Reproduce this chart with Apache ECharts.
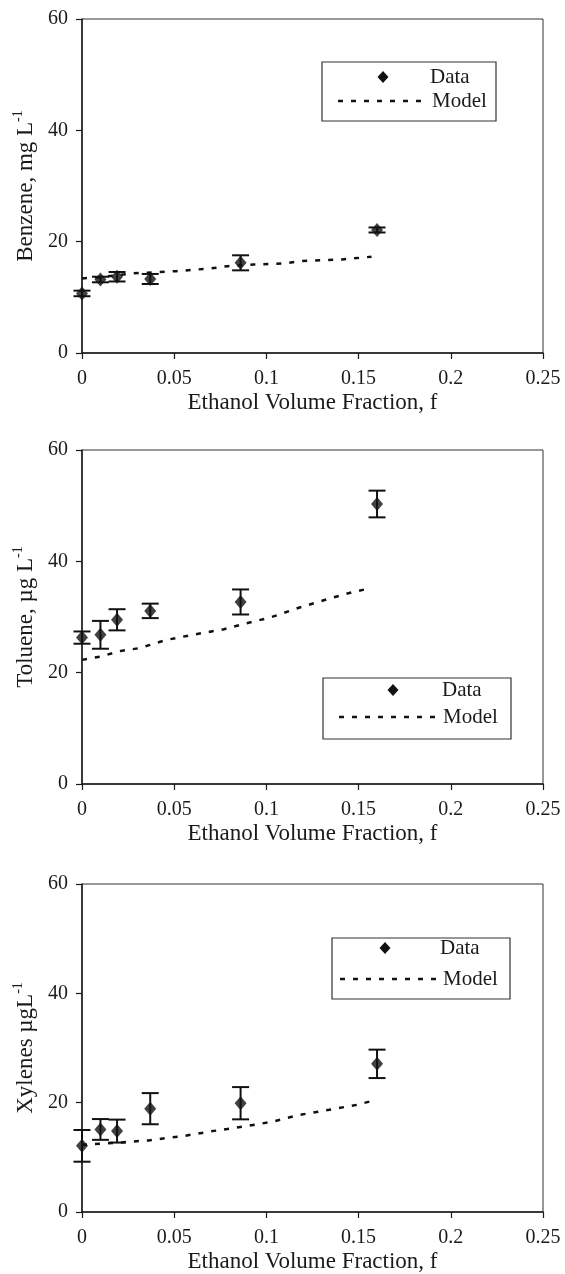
<!DOCTYPE html>
<html>
<head>
<meta charset="utf-8">
<script src="https://cdn.jsdelivr.net/npm/echarts@6/dist/echarts.min.js"></script>
<style>
html,body{margin:0;padding:0;background:#fff;}
#c{width:565px;height:1274px;}
</style>
</head>
<body>
<div id="c"></div>
<script>
// ---------- data ----------
const fraction = [0, 0.01, 0.019, 0.037, 0.086, 0.16];
const xTicks = [0, 0.05, 0.1, 0.15, 0.2, 0.25];
const yTicks = [0, 20, 40, 60];

const benzene    = [10.7, 13.2, 13.7, 13.3, 16.2, 22.1];
const benzeneErr = [0.5, 0.5, 0.85, 0.9, 1.35, 0.45];
const benzeneModelF = [0, 0.01, 0.027, 0.051, 0.070, 0.079, 0.093, 0.110, 0.118, 0.141, 0.157];
const benzeneModel  = [13.4, 13.6, 14.3, 14.7, 15.2, 15.6, 15.9, 16.1, 16.5, 16.8, 17.3];

const toluene    = [26.3, 26.8, 29.5, 31.1, 32.7, 50.3];
const tolueneErr = [1.1, 2.5, 1.9, 1.3, 2.25, 2.4];
const tolueneModelF = [0, 0.01, 0.021, 0.031, 0.046, 0.060, 0.077, 0.087, 0.102, 0.118, 0.133, 0.147, 0.157];
const tolueneModel  = [22.3, 22.9, 23.9, 24.4, 25.9, 26.8, 27.8, 28.7, 29.9, 31.7, 33.2, 34.5, 35.2];

const xylenes    = [12.1, 15.1, 14.8, 18.9, 19.9, 27.1];
const xylenesErr = [2.9, 1.9, 2.1, 2.85, 2.95, 2.6];
const xylenesModelF = [0, 0.02, 0.036, 0.055, 0.069, 0.087, 0.103, 0.117, 0.134, 0.149, 0.156];
const xylenesModel  = [12.3, 12.7, 13.1, 13.9, 14.7, 15.6, 16.5, 17.7, 18.7, 19.6, 20.2];

const yTitles = [
  ['Benzene, mg L', '-1'],
  ['Toluene, \u00b5g L', '-1'],
  ['Xylenes \u00b5gL', '-1']
];
const xTitle = 'Ethanol Volume Fraction, f';
const legendLabels = ['Data', 'Model'];

// ---------- layout ----------
const FONT = '"Liberation Serif", "DejaVu Serif", serif';
const INK = '#1a1a1a';
const TICK_FS = 20, TITLE_FS = 23, LEG_FS = 21;
const panels = [
  {top: 19,  height: 334, vals: benzene, err: benzeneErr, mf: benzeneModelF, mv: benzeneModel,
   leg: {x: 322, y: 62, w: 174, h: 59, dx: 383, dy: 77, lx0: 338, lx1: 427, ly: 101, tx: 430}},
  {top: 450, height: 334, vals: toluene, err: tolueneErr, mf: tolueneModelF, mv: tolueneModel,
   leg: {x: 323, y: 678, w: 188, h: 61, dx: 393, dy: 690, lx0: 339, lx1: 438, ly: 717, tx: 442}},
  {top: 884, height: 329, vals: xylenes, err: xylenesErr, mf: xylenesModelF, mv: xylenesModel,
   leg: {x: 332, y: 938, w: 178, h: 61, dx: 385, dy: 948, lx0: 340, lx1: 438, ly: 979, tx: 440}}
];

const grids = [], xAxes = [], yAxes = [], series = [], graphics = [];

panels.forEach((p, i) => {
  grids.push({left: 82, top: p.top, width: 461, height: p.height,
    show: true, borderColor: '#333', borderWidth: 1, backgroundColor: 'transparent'});
  xAxes.push({type: 'value', gridIndex: i, min: xTicks[0], max: xTicks[xTicks.length - 1],
    interval: xTicks[1] - xTicks[0],
    name: xTitle, nameLocation: 'middle', nameGap: 38,
    nameTextStyle: {fontFamily: FONT, fontSize: TITLE_FS, color: INK},
    axisLine: {show: true, onZero: false, lineStyle: {color: INK, width: 1.5}},
    axisTick: {show: true, inside: false, length: 6, lineStyle: {color: INK, width: 1.2}},
    axisLabel: {fontFamily: FONT, fontSize: TICK_FS, color: INK, margin: 16},
    splitLine: {show: false}});
  yAxes.push({type: 'value', gridIndex: i, min: yTicks[0], max: yTicks[yTicks.length - 1],
    interval: yTicks[1] - yTicks[0],
    name: '{t|' + yTitles[i][0] + '}{s|' + yTitles[i][1] + '}',
    nameLocation: 'middle', nameGap: 44, nameRotate: 90,
    nameTextStyle: {rich: {
      t: {fontFamily: FONT, fontSize: TITLE_FS, color: INK, lineHeight: 26, verticalAlign: 'bottom'},
      s: {fontFamily: FONT, fontSize: 14, color: INK, lineHeight: 26, verticalAlign: 'top'}
    }},
    axisLine: {show: true, onZero: false, lineStyle: {color: INK, width: 1.5}},
    axisTick: {show: true, inside: false, length: 6, lineStyle: {color: INK, width: 1.2}},
    axisLabel: {fontFamily: FONT, fontSize: TICK_FS, color: INK, margin: 14},
    splitLine: {show: false}});

  // error bars
  series.push({type: 'custom', name: 'Data', xAxisIndex: i, yAxisIndex: i, z: 3,
    data: fraction.map((f, k) => [f, p.vals[k] - p.err[k], p.vals[k] + p.err[k]]),
    renderItem: function (params, api) {
      const x = api.value(0);
      const top = api.coord([x, api.value(2)]);
      const bot = api.coord([x, api.value(1)]);
      const hw = 8.5;
      const st = {stroke: '#111', lineWidth: 2};
      return {type: 'group', children: [
        {type: 'line', shape: {x1: top[0], y1: top[1], x2: bot[0], y2: bot[1]}, style: st},
        {type: 'line', shape: {x1: top[0] - hw, y1: top[1], x2: top[0] + hw, y2: top[1]}, style: st},
        {type: 'line', shape: {x1: bot[0] - hw, y1: bot[1], x2: bot[0] + hw, y2: bot[1]}, style: st}
      ]};
    }});
  // data points
  series.push({type: 'scatter', name: 'Data', xAxisIndex: i, yAxisIndex: i, z: 4,
    symbol: 'diamond', symbolSize: [12, 14], itemStyle: {color: '#111'},
    data: fraction.map((f, k) => [f, p.vals[k]])});
  // model
  series.push({type: 'line', name: 'Model', xAxisIndex: i, yAxisIndex: i, z: 2,
    showSymbol: false, symbol: 'none', smooth: false,
    lineStyle: {color: '#111', width: 2.5, type: [5, 8]},
    data: p.mf.map((f, k) => [f, p.mv[k]])});

  // legend box
  const L = p.leg;
  graphics.push({type: 'rect', shape: {x: L.x, y: L.y, width: L.w, height: L.h},
    style: {fill: '#fff', stroke: '#333', lineWidth: 1.2}, z: 10});
  graphics.push({type: 'polygon', shape: {points: [[L.dx, L.dy - 6], [L.dx + 5.5, L.dy], [L.dx, L.dy + 6], [L.dx - 5.5, L.dy]]},
    style: {fill: '#111'}, z: 11});
  graphics.push({type: 'line', shape: {x1: L.lx0, y1: L.ly, x2: L.lx1, y2: L.ly},
    style: {stroke: '#111', lineWidth: 2.5, lineDash: [5, 8]}, z: 11});
  graphics.push({type: 'text', x: L.tx, y: L.dy, z: 11,
    style: {text: legendLabels[0], font: LEG_FS + 'px ' + FONT, fill: INK, verticalAlign: 'middle'}});
  graphics.push({type: 'text', x: L.lx1 + 5, y: L.ly, z: 11,
    style: {text: legendLabels[1], font: LEG_FS + 'px ' + FONT, fill: INK, verticalAlign: 'middle'}});
});

const chart = echarts.init(document.getElementById('c'), null, {renderer: 'canvas'});
chart.setOption({
  animation: false,
  backgroundColor: '#fff',
  grid: grids, xAxis: xAxes, yAxis: yAxes, series: series,
  graphic: graphics
});
</script>
</body>
</html>
